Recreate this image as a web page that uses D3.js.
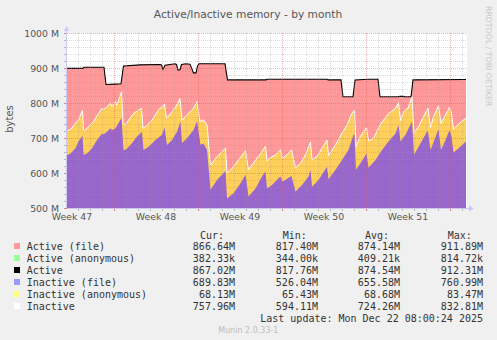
<!DOCTYPE html>
<html>
<head>
<meta charset="utf-8">
<script src="https://cdn.jsdelivr.net/npm/d3@7"></script>
<style>
html,body{margin:0;padding:0;background:#f0f0f0;}
svg{display:block;}
</style>
</head>
<body>
<svg id="chart" width="497" height="340"></svg>
<script>
// ---- data (time in hours after 2025-11-19 02:00 UTC, values in MB) ----
const startTime = Date.UTC(2025, 10, 19, 2, 0);
const windowHours = 800;

const activeHours = [0,32,34,74,78,96,108,113,146,186,189,192,196,216,219,222,226,229,238,246,253,258,261,264,316,321,398,400,520,522,548,552,572,576,602,622,626,662,666,672,676,688,692,798];
const activeValues = [899,899,902,902,853,854,855,906,909,910,909,896,908,912,910,894,895,910,912,911,886,886,905,912,912,866,866,868,868,866,866,818,818,866,868,868,818,818,819,819,818,818,866,867];

const inactiveHours = [0,10,16,23,31,33,35,43,53,63,70,73,80,87,90,97,100,109,112,117,123,133,143,149,152,157,170,183,190,195,199,210,220,226,230,240,253,260,266,273,280,287,300,317,320,330,343,357,363,377,390,397,400,403,417,427,431,440,449,457,467,477,487,490,500,510,520,523,537,550,560,570,575,578,586,599,603,613,626,643,657,663,667,673,682,690,694,703,716,722,727,733,743,748,757,765,769,773,779,789,798];
const inactiveValues = [719,728,742,751,780,723,721,732,747,770,785,780,790,799,790,804,794,832,742,737,751,770,780,785,728,732,751,780,790,797,756,775,795,813,751,766,785,804,747,752,737,623,647,671,599,613,637,664,609,637,661,677,634,640,652,666,642,652,666,615,628,652,688,637,647,671,694,650,680,714,737,771,780,675,703,730,692,699,737,770,785,801,749,775,785,818,715,732,770,785,730,761,792,742,766,788,770,725,735,747,757];

const inactiveFileHours = [0,7,17,23,31,33,40,50,60,70,73,80,87,90,97,100,109,113,120,130,140,150,153,163,177,190,195,200,210,220,227,230,240,253,260,267,273,280,287,300,317,320,333,347,357,363,377,390,397,400,410,423,427,431,447,449,457,470,483,487,490,503,520,523,537,550,563,573,575,578,587,599,603,617,630,643,657,663,667,677,690,694,707,720,722,727,743,748,757,765,769,773,783,798];
const inactiveFileValues = [651,656,671,690,707,652,656,671,694,713,710,718,728,722,728,735,758,664,670,685,704,717,666,675,694,709,730,680,694,718,747,686,699,723,748,681,684,666,552,580,606,527,542,571,595,533,556,590,604,556,566,585,590,575,590,591,547,566,590,609,561,580,618,582,609,637,666,709,710,609,628,656,615,637,666,690,713,737,690,709,747,652,685,718,718,666,725,666,694,723,705,658,671,690];

const yTicks = [500,600,700,800,900,1000];
const yTickLabels = ["500 M","600 M","700 M","800 M","900 M","1000 M"];

const legendNames = ["Active (file)","Active (anonymous)","Active","Inactive (file)","Inactive (anonymous)","Inactive"];
const legendColors = ["#ff9999","#99ff99","#000000","#9999ff","#ffff80","#ffffff"];
const legendCur = ["866.64M","382.33k","867.02M","689.83M","68.13M","757.96M"];
const legendMin = ["817.40M","344.00k","817.76M","526.04M","65.43M","594.11M"];
const legendAvg = ["874.14M","409.21k","874.54M","655.58M","68.68M","724.26M"];
const legendMax = ["911.89M","814.72k","912.31M","760.99M","83.47M","832.81M"];

// ---- chart ----
const svg = d3.select("#chart");
const L = 67, R = 467, T = 33, B = 208;
const hourMs = 3600e3;
const x = d3.scaleUtc().domain([new Date(startTime), new Date(startTime + windowHours*hourMs)]).range([L, R]);
const y = d3.scaleLinear().domain([500, 1000]).range([B, T]);
const toPts = (hs, vs) => hs.map((h, i) => ({t: new Date(startTime + h*hourMs), v: vs[i]}));

svg.append("rect").attr("width",497).attr("height",340).attr("fill","#f0f0f0");
svg.append("rect").attr("x",L).attr("y",T).attr("width",R-L).attr("height",B-T).attr("fill","#ffffff");

const defs = svg.append("defs");
defs.append("clipPath").attr("id","clip").append("rect").attr("x",L).attr("y",T).attr("width",R-L).attr("height",B-T);
const g = svg.append("g").attr("clip-path","url(#clip)");

const area = d3.area().x(d => x(d.t)).y0(B + 5).y1(d => y(d.v));
const line = d3.line().x(d => x(d.t)).y(d => y(d.v));

const activePts = toPts(activeHours, activeValues);
const inactivePts = toPts(inactiveHours, inactiveValues);
const inactiveFilePts = toPts(inactiveFileHours, inactiveFileValues);

g.append("path").datum(activePts).attr("d", area).attr("fill","#ff9999");
g.append("path").datum(inactivePts).attr("d", area).attr("fill","#ffcf5c");
g.append("path").datum(inactiveFilePts).attr("d", area).attr("fill","#9966cc");
g.append("path").datum(inactivePts).attr("d", line).attr("fill","none").attr("stroke","#ffffff").attr("stroke-width",1);
g.append("path").datum(activePts).attr("d", line).attr("fill","none").attr("stroke","#000000").attr("stroke-width",1.1);

// grid (drawn over the data, like rrdtool)
const grid = svg.append("g");
const minorY = d3.range(500, 1001, 20);
minorY.forEach(v => {
  const major = v % 100 === 0;
  grid.append("line").attr("x1",L).attr("x2",R).attr("y1",Math.round(y(v))+0.5).attr("y2",Math.round(y(v))+0.5)
    .attr("stroke", major ? "rgba(225,80,80,0.45)" : "rgba(150,150,150,0.35)").attr("stroke-dasharray","1,1");
  grid.append("line").attr("x1",L-3).attr("x2",L).attr("y1",Math.round(y(v))+0.5).attr("y2",Math.round(y(v))+0.5)
    .attr("stroke", major ? "#e08080" : "#b8b8b8");
});
const days = d3.utcDay.range(x.domain()[0], x.domain()[1]);
days.forEach(d => {
  const major = d.getUTCDay() === 0;
  const px = Math.round(x(d)) + 0.5;
  grid.append("line").attr("x1",px).attr("x2",px).attr("y1",T).attr("y2",B)
    .attr("stroke", major ? "rgba(225,80,80,0.45)" : "rgba(150,150,150,0.35)").attr("stroke-dasharray","1,1");
  grid.append("line").attr("x1",px).attr("x2",px).attr("y1",B).attr("y2",B+3)
    .attr("stroke", major ? "#e08080" : "#b8b8b8");
});

// axes + arrows
svg.append("line").attr("x1",L-0.5).attr("x2",L-0.5).attr("y1",B).attr("y2",T-4).attr("stroke","#c8c8f0");
svg.append("line").attr("x1",L).attr("x2",R+4).attr("y1",B+0.5).attr("y2",B+0.5).attr("stroke","#c8c8f0");
svg.append("path").attr("d",`M${L-3},${T-2} L${L+2},${T-2} L${L-0.5},${T-7} Z`).attr("fill","#c8c8f8");
svg.append("path").attr("d",`M${R+2},${B-2.5} L${R+2},${B+3.5} L${R+7},${B+0.5} Z`).attr("fill","#c8c8f8");

// y labels
const lblFont = "DejaVu Sans, sans-serif";
yTicks.forEach((v, i) => {
  svg.append("text").attr("x",59).attr("y",y(v)+3.5).attr("text-anchor","end")
    .attr("font-family",lblFont).attr("font-size","9.33px").attr("fill","#555")
    .text(yTickLabels[i]);
});
// x labels: "Week N" centred mid-week
const weekStarts = d3.utcSunday.range(d3.utcSunday.floor(x.domain()[0]), x.domain()[1]);
const weekFmt = d3.utcFormat("Week %V");
weekStarts.forEach(ws => {
  const mid = new Date(+ws + 3.5*24*hourMs);
  const px = x(mid);
  if (px < L - 10 || px > R) return;
  svg.append("text").attr("x",px).attr("y",219.5).attr("text-anchor","middle")
    .attr("font-family",lblFont).attr("font-size","9.33px").attr("fill","#555")
    .text(weekFmt(mid));
});

// title, axis label, watermark
svg.append("text").attr("x",248).attr("y",18).attr("text-anchor","middle")
  .attr("font-family",lblFont).attr("font-size","10.67px").attr("fill","#555")
  .text("Active/Inactive memory - by month");
svg.append("text").attr("transform","translate(13,119) rotate(-90)").attr("text-anchor","middle")
  .attr("font-family",lblFont).attr("font-size","10px").attr("fill","#555").text("bytes");
svg.append("text").attr("transform","translate(485.5,6) rotate(90)").attr("text-anchor","start")
  .attr("font-family",lblFont).attr("font-size","7.8px").attr("fill","#c8c8c8").text("RRDTOOL / TOBI OETIKER");

// legend
const mono = "DejaVu Sans Mono, monospace";
const lg = svg.append("g").attr("font-family",mono).attr("font-size","10px").attr("fill","#333");
[["Cur:",200],["Min:",282.7],["Avg:",365],["Max:",447.7]].forEach(([t,px]) => {
  lg.append("text").attr("x",px).attr("y",238.5).text(t);
});
legendNames.forEach((n, i) => {
  const by = 249.5 + i*12;
  lg.append("rect").attr("x",14).attr("y",by-6.5).attr("width",6).attr("height",6).attr("fill",legendColors[i]);
  lg.append("text").attr("x",26.7).attr("y",by).text(n);
  [[legendCur,235],[legendMin,318],[legendAvg,400],[legendMax,483]].forEach(([arr,px]) => {
    lg.append("text").attr("x",px).attr("y",by).attr("text-anchor","end").text(arr[i]);
  });
});
lg.append("text").attr("x",483).attr("y",321.5).attr("text-anchor","end").text("Last update: Mon Dec 22 08:00:24 2025");
svg.append("text").attr("x",248.3).attr("y",332.5).attr("text-anchor","middle")
  .attr("font-family",lblFont).attr("font-size","8px").attr("fill","#bdbdbd").text("Munin 2.0.33-1");
</script>
</body>
</html>
